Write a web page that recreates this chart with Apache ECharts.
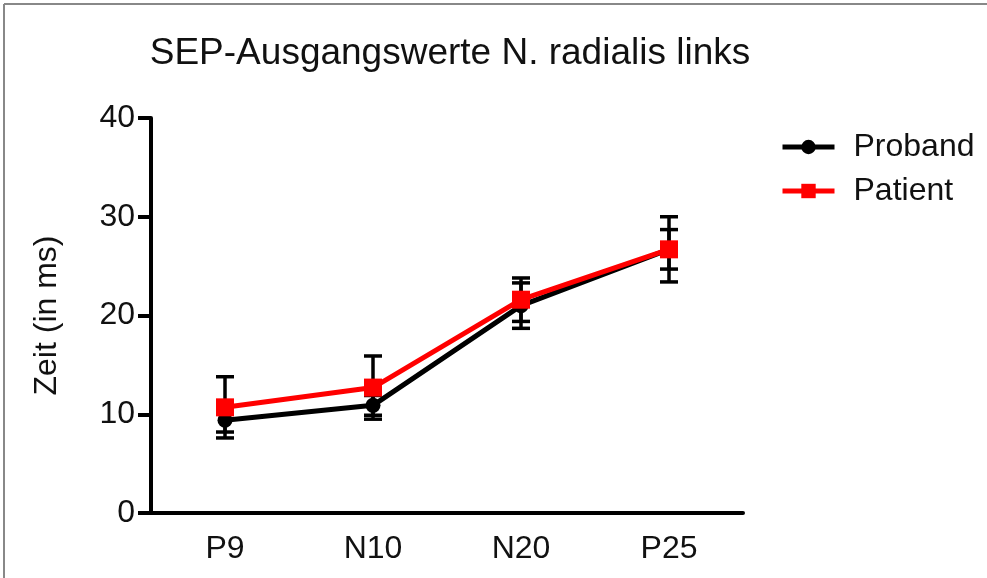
<!DOCTYPE html>
<html>
<head>
<meta charset="utf-8">
<script src="https://cdn.jsdelivr.net/npm/echarts@6/dist/echarts.min.js"></script>
<style>
html,body{margin:0;padding:0;background:#fff;}
#chart{width:987px;height:578px;}
</style>
</head>
<body>
<div id="chart"></div>
<script>
var categories = ['P9', 'N10', 'N20', 'P25'];
var probandValues = [9.4, 10.9, 21.0, 26.7];
var probandErrors = [1.2, 1.0, 2.3, 3.3];
var patientValues = [10.7, 12.7, 21.6, 26.7];
var patientErrors = [3.1, 3.2, 2.2, 2.0];
var yTicks = [0, 10, 20, 30, 40];

var FONT = 'Liberation Sans, Arial, Helvetica, sans-serif';

function errData(vals, errs) {
  return vals.map(function (v, i) { return [i, v - errs[i], v + errs[i]]; });
}

function errRender(params, api) {
  var x = api.value(0);
  var lo = api.coord([x, api.value(1)]);
  var hi = api.coord([x, api.value(2)]);
  var hw = 9;
  var st = { stroke: '#000', lineWidth: 3.5 };
  return {
    type: 'group',
    children: [
      { type: 'line', shape: { x1: lo[0], y1: lo[1], x2: hi[0], y2: hi[1] }, style: st },
      { type: 'line', shape: { x1: lo[0] - hw, y1: lo[1], x2: lo[0] + hw, y2: lo[1] }, style: st },
      { type: 'line', shape: { x1: hi[0] - hw, y1: hi[1], x2: hi[0] + hw, y2: hi[1] }, style: st }
    ]
  };
}

var chart = echarts.init(document.getElementById('chart'));
chart.setOption({
  animation: false,
  backgroundColor: '#fff',
  title: {
    text: 'SEP-Ausgangswerte N. radialis links',
    left: 445, top: 30, textAlign: 'center',
    textStyle: { fontFamily: FONT, fontSize: 37, fontWeight: 'normal', color: '#111' }
  },
  legend: {
    orient: 'vertical',
    left: 775, top: 126,
    itemWidth: 52, itemHeight: 18, itemGap: 12,
    data: ['Proband', 'Patient'],
    lineStyle: { width: 5 },
    textStyle: { fontFamily: FONT, fontSize: 32, color: '#111', padding: [0, 0, 0, 14] }
  },
  grid: { left: 151, right: 244, top: 118, bottom: 65, containLabel: false },
  xAxis: {
    type: 'category',
    data: categories,
    boundaryGap: true,
    axisLine: { lineStyle: { color: '#000', width: 4 } },
    axisTick: { alignWithLabel: true, length: 12, lineStyle: { color: '#000', width: 4 } },
    axisLabel: { fontFamily: FONT, fontSize: 32, color: '#111', margin: 20 }
  },
  yAxis: {
    type: 'value',
    min: yTicks[0], max: yTicks[yTicks.length - 1], interval: 10,
    name: 'Zeit (in ms)',
    nameLocation: 'middle', nameGap: 88, nameRotate: 90,
    nameTextStyle: { fontFamily: FONT, fontSize: 32, color: '#111' },
    splitLine: { show: false },
    axisLine: { show: true, lineStyle: { color: '#000', width: 4 } },
    axisTick: { show: true, length: 13, lineStyle: { color: '#000', width: 4 } },
    axisLabel: { fontFamily: FONT, fontSize: 32, color: '#111', margin: 16 }
  },
  graphic: [
    { type: 'line', shape: { x1: 4, y1: 4, x2: 987, y2: 4 }, style: { stroke: '#888', lineWidth: 2 } },
    { type: 'line', shape: { x1: 4, y1: 4, x2: 4, y2: 578 }, style: { stroke: '#888', lineWidth: 2 } }
  ],
  series: [
    { name: 'ProbandErr', type: 'custom', data: errData(probandValues, probandErrors), renderItem: errRender, z: 1, silent: true },
    { name: 'PatientErr', type: 'custom', data: errData(patientValues, patientErrors), renderItem: errRender, z: 1, silent: true },
    {
      name: 'Proband', type: 'line', data: probandValues, z: 3,
      symbol: 'circle', symbolSize: 15,
      lineStyle: { color: '#000', width: 5 }, itemStyle: { color: '#000' }
    },
    {
      name: 'Patient', type: 'line', data: patientValues, z: 4,
      symbol: 'rect', symbolSize: 18,
      lineStyle: { color: '#ff0000', width: 5 }, itemStyle: { color: '#ff0000' }
    }
  ]
});
</script>
</body>
</html>
